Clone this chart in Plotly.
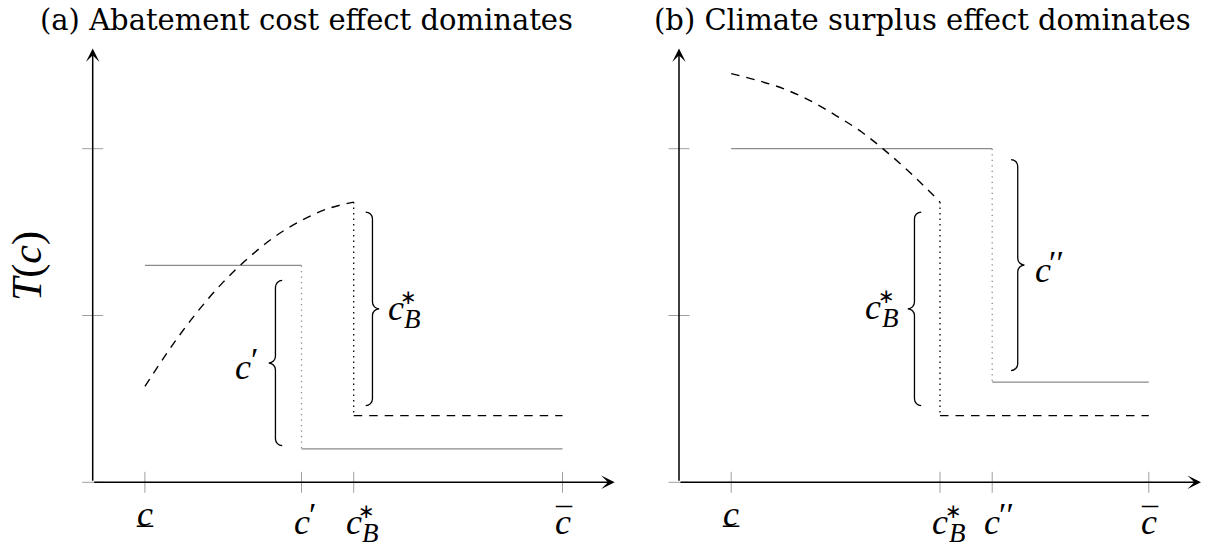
import plotly.graph_objects as go

# ---------------- data ----------------
TITLES = ["(a) Abatement cost effect dominates", "(b) Climate surplus effect dominates"]
Y_LABEL = "<i>T</i>(<i>c</i>)"

Y_TICKS = [0, 1, 2]
X_TICKS_A = [1, 4, 5, 9]
X_TICK_KINDS_A = ["under", "prime", "starB", "over"]
X_TICKS_B = [1, 5, 6, 9]
X_TICK_KINDS_B = ["under", "starB", "dprime", "over"]

# panel (a)
A_CURVE_X = [1.0, 1.5, 2.0, 2.5, 3.0, 3.5, 4.0, 4.5, 5.0]
A_CURVE_Y = [0.575, 0.81, 1.02, 1.20, 1.35, 1.475, 1.57, 1.64, 1.68]
A_SOLID_HI_X = [1, 4]
A_SOLID_HI_Y = [1.30, 1.30]
A_SOLID_LO_X = [4, 9]
A_SOLID_LO_Y = [0.20, 0.20]
A_DASH_LO_X = [5, 9]
A_DASH_LO_Y = [0.40, 0.40]
A_DOT_GRAY_X = [4, 4]
A_DOT_GRAY_Y = [1.30, 0.20]
A_DOT_BLACK_X = [5, 5]
A_DOT_BLACK_Y = [1.68, 0.40]
# braces: (x of the ends, y bottom, y top, direction of tip)
A_BRACES = [(3.63, 0.22, 1.21, -1), (5.23, 0.46, 1.62, 1)]
A_BRACE_LABELS = [(2.88, 0.69, "prime"), (5.81, 1.045, "starB")]

# panel (b)
B_CURVE_X = [1.0, 1.5, 2.0, 2.5, 3.0, 3.5, 4.0, 4.5, 5.0]
B_CURVE_Y = [2.45, 2.41, 2.36, 2.29, 2.20, 2.10, 1.975, 1.835, 1.68]
B_SOLID_HI_X = [1, 6]
B_SOLID_HI_Y = [2.0, 2.0]
B_SOLID_LO_X = [6, 9]
B_SOLID_LO_Y = [0.60, 0.60]
B_DASH_LO_X = [5, 9]
B_DASH_LO_Y = [0.40, 0.40]
B_DOT_GRAY_X = [6, 6]
B_DOT_GRAY_Y = [2.0, 0.60]
B_DOT_BLACK_X = [5, 5]
B_DOT_BLACK_Y = [1.68, 0.40]
B_BRACES = [(4.64, 0.46, 1.62, -1), (6.36, 0.67, 1.935, 1)]
B_BRACE_LABELS = [(3.72, 1.05, "starB"), (6.97, 1.27, "dprime")]

X_AXIS_END = 10.0
Y_AXIS_END = 2.6

# ---------------- layout geometry ----------------
W, H = 1210, 548
ORIGIN_PX = [92.7, 679.0]
XU = 52.2          # px per x unit
Y0_PX = 482.3      # px of y = 0
YU = 166.8         # px per y unit
XR = [-0.5, 10.15]
YR = [-0.35, 2.75]

SERIF = "Liberation Serif"
TITLE_FONT = "DejaVu Serif"
MATH_SIZE = 36
GRAY = "#8a8a8a"
TICK_GRAY = "#a0a0a0"

fig = go.Figure()
annotations = []
shapes = []

panels = [
    dict(ax="x", ay="y", ticks=X_TICKS_A, kinds=X_TICK_KINDS_A,
         curve=(A_CURVE_X, A_CURVE_Y), hi=(A_SOLID_HI_X, A_SOLID_HI_Y),
         lo=(A_SOLID_LO_X, A_SOLID_LO_Y), dash=(A_DASH_LO_X, A_DASH_LO_Y),
         dotg=(A_DOT_GRAY_X, A_DOT_GRAY_Y), dotb=(A_DOT_BLACK_X, A_DOT_BLACK_Y),
         braces=A_BRACES, blabels=A_BRACE_LABELS),
    dict(ax="x2", ay="y2", ticks=X_TICKS_B, kinds=X_TICK_KINDS_B,
         curve=(B_CURVE_X, B_CURVE_Y), hi=(B_SOLID_HI_X, B_SOLID_HI_Y),
         lo=(B_SOLID_LO_X, B_SOLID_LO_Y), dash=(B_DASH_LO_X, B_DASH_LO_Y),
         dotg=(B_DOT_GRAY_X, B_DOT_GRAY_Y), dotb=(B_DOT_BLACK_X, B_DOT_BLACK_Y),
         braces=B_BRACES, blabels=B_BRACE_LABELS),
]


def math_label(xr, yr, x, y, kind, xs=0, ys=0):
    """c with decoration; (x, y) is the centre of the letter c."""
    base = dict(xref=xr, yref=yr, x=x, y=y, showarrow=False,
                xanchor="center", yanchor="middle")
    annotations.append(dict(base, text="<i>c</i>", xshift=xs, yshift=ys,
                            font=dict(family=SERIF, size=MATH_SIZE, color="black")))
    if kind == "prime":
        annotations.append(dict(base, text="′", xshift=xs + 11, yshift=ys + 8,
                                font=dict(family=SERIF, size=34, color="black")))
    elif kind == "dprime":
        annotations.append(dict(base, text="′′", xshift=xs + 14, yshift=ys + 8,
                                font=dict(family=SERIF, size=34, color="black")))
    elif kind == "starB":
        annotations.append(dict(base, text="∗", xshift=xs + 13, yshift=ys + 11,
                                font=dict(family="DejaVu Sans", size=20, color="black")))
        annotations.append(dict(base, text="<i>B</i>", xshift=xs + 17, yshift=ys - 11,
                                font=dict(family=SERIF, size=27, color="black")))
    elif kind == "under":
        annotations.append(dict(base, text="_", xshift=xs, yshift=ys + 2,
                                font=dict(family=SERIF, size=32, color="black")))
    elif kind == "over":
        annotations.append(dict(base, text="¯", xshift=xs + 1, yshift=ys + 3,
                                font=dict(family=SERIF, size=32, color="black")))


def brace_path(xb, y0, y1, s, amp_px=13.5):
    r = amp_px / 2.0
    rx, ry = r / XU, r / YU
    k = 0.5523
    ym = (y0 + y1) / 2.0
    x1 = xb + s * rx
    x2 = xb + 2 * s * rx
    p = []
    p.append(f"M{xb},{y0}")
    p.append(f"C{xb + s*rx*k},{y0} {x1},{y0 + ry - ry*k} {x1},{y0 + ry}")
    p.append(f"L{x1},{ym - ry}")
    p.append(f"C{x1},{ym - ry + ry*k} {x2 - s*rx*k},{ym} {x2},{ym}")
    p.append(f"C{x2 - s*rx*k},{ym} {x1},{ym + ry - ry*k} {x1},{ym + ry}")
    p.append(f"L{x1},{y1 - ry}")
    p.append(f"C{x1},{y1 - ry + ry*k} {xb + s*rx*k},{y1} {xb},{y1}")
    return " ".join(p)


for i, P in enumerate(panels):
    xa, ya = P["ax"], P["ay"]
    common = dict(xaxis=xa, yaxis=ya, mode="lines", showlegend=False, hoverinfo="skip")
    # tick marks
    fig.add_trace(go.Scatter(x=P["ticks"], y=[0] * len(P["ticks"]), mode="markers",
                             xaxis=xa, yaxis=ya, showlegend=False, hoverinfo="skip",
                             marker=dict(symbol="line-ns", size=15,
                                         line=dict(width=1, color=TICK_GRAY))))
    fig.add_trace(go.Scatter(x=[0] * len(Y_TICKS), y=Y_TICKS, mode="markers",
                             xaxis=xa, yaxis=ya, showlegend=False, hoverinfo="skip",
                             marker=dict(symbol="line-ew", size=15,
                                         line=dict(width=1, color=TICK_GRAY))))
    # data lines
    fig.add_trace(go.Scatter(x=P["hi"][0], y=P["hi"][1], line=dict(color=GRAY, width=1.3), **common))
    fig.add_trace(go.Scatter(x=P["lo"][0], y=P["lo"][1], line=dict(color=GRAY, width=1.3), **common))
    fig.add_trace(go.Scatter(x=P["dotg"][0], y=P["dotg"][1],
                             line=dict(color=GRAY, width=1.3, dash="1.3px,4.2px"), **common))
    fig.add_trace(go.Scatter(x=P["dotb"][0], y=P["dotb"][1],
                             line=dict(color="black", width=1.3, dash="1.3px,4.2px"), **common))
    fig.add_trace(go.Scatter(x=P["dash"][0], y=P["dash"][1],
                             line=dict(color="black", width=1.4, dash="8.5px,7px"), **common))
    fig.add_trace(go.Scatter(x=P["curve"][0], y=P["curve"][1],
                             line=dict(color="black", width=1.4, dash="8.5px,7px",
                                       shape="spline", smoothing=1.0),
                             **common))
    # axes with arrows
    for (tx, ty) in [(X_AXIS_END, 0), (0, Y_AXIS_END)]:
        annotations.append(dict(xref=xa, yref=ya, axref=xa, ayref=ya, x=tx, y=ty, ax=0, ay=0,
                                text="", showarrow=True, arrowhead=3, arrowsize=1.5,
                                arrowwidth=1.5, arrowcolor="black"))
    # tick labels
    for tv, kind in zip(P["ticks"], P["kinds"]):
        ys = -32 if kind == "under" else -40
        math_label(xa, ya, tv, 0, kind, ys=ys)
    # braces
    for (xb, y0, y1, s) in P["braces"]:
        shapes.append(dict(type="path", xref=xa, yref=ya, path=brace_path(xb, y0, y1, s),
                           line=dict(color="black", width=1.3)))
    for (lx, ly, kind) in P["blabels"]:
        math_label(xa, ya, lx, ly, kind)
    # title
    annotations.append(dict(xref="paper", yref="paper", x=[306, 923][i] / W, y=1 - 20 / H,
                            text=TITLES[i], showarrow=False, xanchor="center", yanchor="middle",
                            font=dict(family=TITLE_FONT, size=29, color="black")))

annotations.append(dict(xref="paper", yref="paper", x=27 / W, y=1 - 266 / H, text=Y_LABEL,
                        textangle=-90, showarrow=False, xanchor="center", yanchor="middle",
                        font=dict(family=SERIF, size=42, color="black")))


def xdom(o):
    return [(o + XR[0] * XU) / W, (o + XR[1] * XU) / W]


ydom = [(H - (Y0_PX - YR[0] * YU)) / H, (H - (Y0_PX - YR[1] * YU)) / H]
ax_common = dict(visible=False, showgrid=False, zeroline=False, fixedrange=True)

fig.update_layout(
    width=W, height=H, margin=dict(l=0, r=0, t=0, b=0),
    paper_bgcolor="white", plot_bgcolor="rgba(0,0,0,0)",
    xaxis=dict(ax_common, domain=xdom(ORIGIN_PX[0]), range=XR),
    yaxis=dict(ax_common, domain=ydom, range=YR),
    xaxis2=dict(ax_common, domain=xdom(ORIGIN_PX[1]), range=XR),
    yaxis2=dict(ax_common, domain=ydom, range=YR, anchor="x2"),
    annotations=annotations, shapes=shapes,
)

fig.write_html("out.html", config={"displayModeBar": False, "staticPlot": True},
               post_script="document.body.style.margin='0px';")
